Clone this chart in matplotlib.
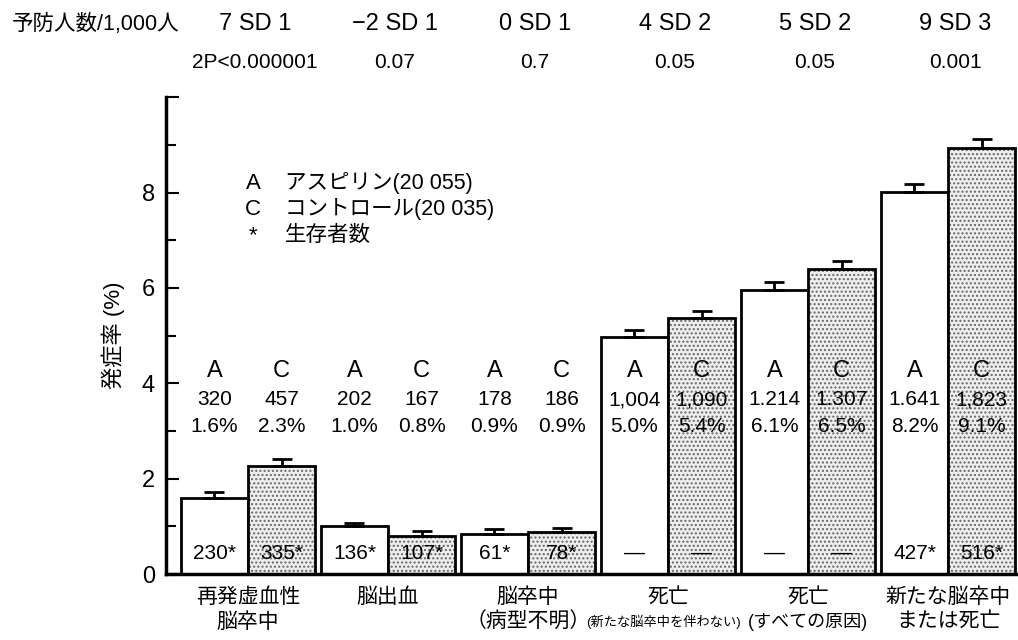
import matplotlib
matplotlib.use("Agg")
import matplotlib.pyplot as plt
import numpy as np

plt.rcParams['font.family'] = ['Liberation Sans', 'Noto Sans CJK JP', 'DejaVu Sans']

# ---- data ----
categories = ["再発虚血性\n脳卒中", "脳出血", "脳卒中\n（病型不明）",
              "死亡", "死亡", "新たな脳卒中\nまたは死亡"]
cat_sub = ["", "", "", "(新たな脳卒中を伴わない)", "(すべての原因)", ""]
aspirin = [1.6, 1.0, 0.85, 4.97, 5.96, 8.02]
control = [2.27, 0.8, 0.88, 5.37, 6.4, 8.93]
aspirin_err = [0.12, 0.08, 0.1, 0.15, 0.17, 0.17]
control_err = [0.15, 0.1, 0.08, 0.15, 0.17, 0.2]
aspirin_n = ["320", "202", "178", "1,004", "1.214", "1.641"]
control_n = ["457", "167", "186", "1,090", "1.307", "1,823"]
aspirin_pct = ["1.6%", "1.0%", "0.9%", "5.0%", "6.1%", "8.2%"]
control_pct = ["2.3%", "0.8%", "0.9%", "5.4%", "6.5%", "9.1%"]
aspirin_surv = ["230*", "136*", "61*", "—", "—", "427*"]
control_surv = ["335*", "107*", "78*", "—", "—", "516*"]
prevented = ["7 SD 1", "−2 SD 1", "0 SD 1", "4 SD 2", "5 SD 2", "9 SD 3"]
pvalues = ["2P<0.000001", "0.07", "0.7", "0.05", "0.05", "0.001"]
legend_lines = [("A", "アスピリン(20 055)"), ("C", "コントロール(20 035)"), ("*", "生存者数")]

fig = plt.figure(figsize=(10.18, 6.4), dpi=100)
ax = fig.add_axes([0.163, 0.103, 0.837, 0.745])

x = np.arange(len(categories))
w = 0.479
xa = x - w / 2
xc = x + w / 2

ax.bar(xa, aspirin, width=w, color="white", edgecolor="black", linewidth=2, zorder=2)
ax.bar(xc, control, width=w, color="#eeeeee", edgecolor="#666666", hatch="....",
       linewidth=0, zorder=2)
ax.bar(xc, control, width=w, color="none", edgecolor="black", linewidth=2, zorder=3)

ax.errorbar(xa, aspirin, yerr=[np.zeros(len(x)), aspirin_err], fmt="none",
            ecolor="black", elinewidth=2, capsize=7, capthick=2, zorder=4)
ax.errorbar(xc, control, yerr=[np.zeros(len(x)), control_err], fmt="none",
            ecolor="black", elinewidth=2, capsize=7, capthick=2, zorder=4)

fs_num = 15
for i in range(len(x)):
    for xx, lab, n, p, s in ((xa[i], "A", aspirin_n[i], aspirin_pct[i], aspirin_surv[i]),
                             (xc[i], "C", control_n[i], control_pct[i], control_surv[i])):
        ax.text(xx, 4.25, lab, ha="center", va="center", fontsize=17, zorder=5)
        ax.text(xx, 3.66, n, ha="center", va="center", fontsize=fs_num, zorder=5)
        ax.text(xx, 3.1, p, ha="center", va="center", fontsize=fs_num, zorder=5)
        ax.text(xx, 0.44, s, ha="center", va="center", fontsize=fs_num, zorder=5)

# category labels
for i, c in enumerate(categories):
    lines = c.split("\n")
    ax.text(x[i], -0.48, lines[0], ha="center", va="center", fontsize=15,
            clip_on=False)
    if len(lines) > 1:
        ax.text(x[i], -1.0, lines[1], ha="center", va="center", fontsize=15,
                clip_on=False)
    if cat_sub[i]:
        long_sub = len(cat_sub[i]) > 10
        fsz = 9.5 if long_sub else 13
        dx = -0.035 if long_sub else 0.0
        ax.text(x[i] + dx, -1.0, cat_sub[i], ha="center", va="center", fontsize=fsz,
                clip_on=False)

# legend-like text
for k, (sym, txt) in enumerate(legend_lines):
    yy = 8.2 - k * 0.55
    ax.text(0.036, yy, sym, ha="center", va="center", fontsize=16)
    ax.text(0.264, yy, txt, ha="left", va="center", fontsize=15.5)

# header rows
fig.text(12 / 1018, 1 - 24 / 640, "予防人数/1,000人", ha="left", va="center", fontsize=15.5)
for i in range(len(x)):
    ax.text(x[i] + 0.05, 1 + (97 - 24) / 477, prevented[i],
            transform=ax.get_xaxis_transform(),
            ha="center", va="center", fontsize=17, clip_on=False)
    ax.text(x[i] + 0.05, 1 + (97 - 62) / 477, pvalues[i],
            transform=ax.get_xaxis_transform(),
            ha="center", va="center", fontsize=15, clip_on=False)

ax.set_xlim(-0.586, 5.5)
ax.set_ylim(0, 10)
ax.set_yticks([0, 2, 4, 6, 8, 10])
ax.set_yticklabels(["0", "2", "4", "6", "8", ""])
ax.set_yticks([1, 3, 5, 7, 9], minor=True)
ax.tick_params(axis="y", which="major", direction="in", length=9, width=1.5,
               labelsize=17, pad=8)
ax.tick_params(axis="y", which="minor", direction="in", length=7, width=1.5)
ax.set_xticks([])
for sp in ("top", "right"):
    ax.spines[sp].set_visible(False)
ax.spines["left"].set_linewidth(2.5)
ax.spines["bottom"].set_linewidth(2.5)
ax.set_ylabel("発症率 (%)", fontsize=16, labelpad=12)

fig.savefig("out.png", dpi=100)
